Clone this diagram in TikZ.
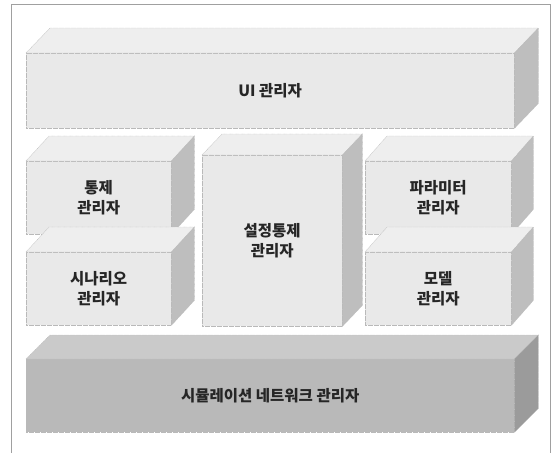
\documentclass[tikz,border=0pt]{standalone}
\usepackage{fontspec}
\newfontfamily\kr{Noto Sans CJK KR}
\usetikzlibrary{calc}
\definecolor{lfront}{HTML}{E9E9E9}
\definecolor{ltop}{HTML}{EEEEEE}
\definecolor{lside}{HTML}{BEBEBE}
\definecolor{dfront}{HTML}{B9B9B9}
\definecolor{dtop}{HTML}{CACACA}
\definecolor{dside}{HTML}{9B9B9B}
\definecolor{frame}{HTML}{A0A0A0}
\tikzset{
  face/.style={draw=gray!55, line width=0.4pt, dash pattern=on 0.6pt off 0.6pt},
  frontface/.style={face, inner sep=0pt, anchor=north west, align=center,
    font=\kr\bfseries\fontsize{15.5}{20.5}\selectfont, text=black!85},
}
\newcommand\cubefaces[5]{%
  \draw[face, fill=#4] (#1.north west) -- ++(#2,-#3) -- ($(#1.north east)+(#2,-#3)$) -- (#1.north east) -- cycle;
  \draw[face, fill=#5] (#1.north east) -- ($(#1.north east)+(#2,-#3)$) -- ($(#1.south east)+(#2,-#3)$) -- (#1.south east) -- cycle;
}
\begin{document}
\begin{tikzpicture}[x=1pt,y=-1pt]
\useasboundingbox (0,0) rectangle (555,453);
\draw[frame, line width=0.8pt] (11,453) -- (11,4.5) -- (550.5,4.5) -- (550.5,453);
% UI
\node[frontface, fill=lfront, minimum width=488pt, minimum height=75pt] (ui) at (26,53) {UI 관리자};
\cubefaces{ui}{24}{25}{ltop}{lside}
% left column
\node[frontface, fill=lfront, minimum width=145pt, minimum height=73pt] (ctrl) at (26,161) {통제\\관리자};
\cubefaces{ctrl}{23}{25}{ltop}{lside}
\node[frontface, fill=lfront, minimum width=145pt, minimum height=73pt] (scen) at (26,252) {시나리오\\관리자};
\cubefaces{scen}{23}{25}{ltop}{lside}
% center
\node[frontface, fill=lfront, minimum width=140pt, minimum height=171pt] (setc) at (202,155) {설정통제\\관리자};
\cubefaces{setc}{20}{21}{ltop}{lside}
% right column
\node[frontface, fill=lfront, minimum width=146pt, minimum height=73pt] (param) at (365,161) {파라미터\\관리자};
\cubefaces{param}{22}{25}{ltop}{lside}
\node[frontface, fill=lfront, minimum width=146pt, minimum height=73pt] (model) at (365,252) {모델\\관리자};
\cubefaces{model}{22}{25}{ltop}{lside}
% bottom
\node[frontface, fill=dfront, minimum width=488pt, minimum height=73pt] (net) at (26,359) {시뮬레이션 네트워크 관리자};
\cubefaces{net}{24}{24}{dtop}{dside}
\end{tikzpicture}
\end{document}
